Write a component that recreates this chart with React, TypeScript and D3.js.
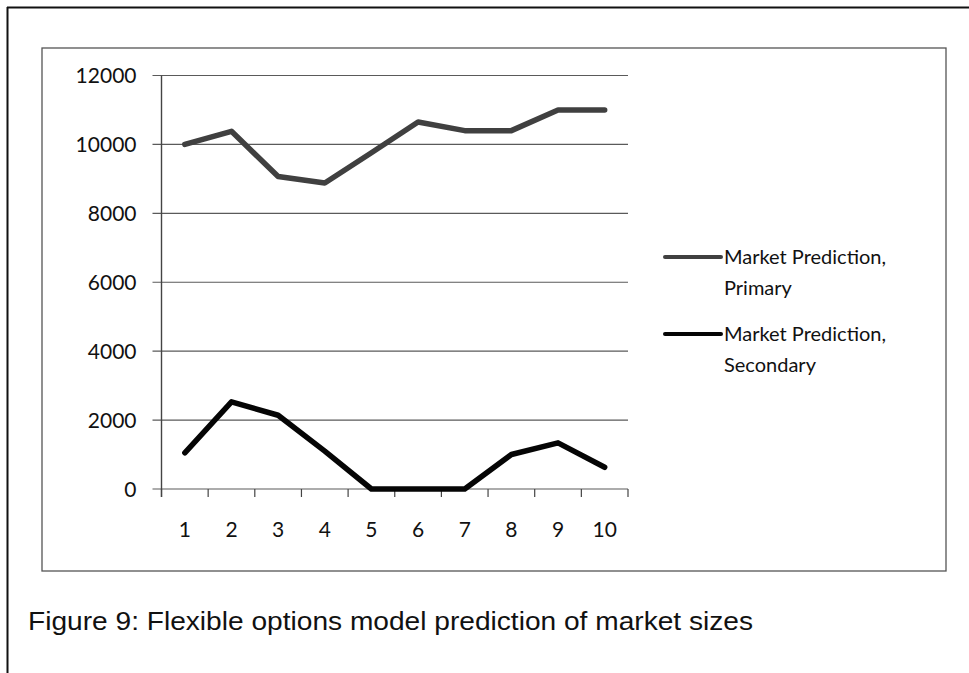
import React from "react";
import * as d3 from "d3";

// Periods on the horizontal axis
const periods = ["1", "2", "3", "4", "5", "6", "7", "8", "9", "10"];
// Market prediction, primary market
const primaryValues = [10000, 10380, 9070, 8880, 9760, 10650, 10400, 10400, 11000, 11000];
// Market prediction, secondary market
const secondaryValues = [1050, 2530, 2140, 1100, 0, 0, 0, 1000, 1340, 630];
// Value axis ticks
const yTicks = [0, 2000, 4000, 6000, 8000, 10000, 12000];
const seriesNames = [["Market Prediction,", "Primary"], ["Market Prediction,", "Secondary"]];
const caption = "Figure 9: Flexible options model prediction of market sizes";

const W = 969;
const H = 673;
const plot = { left: 161.5, right: 628, top: 75.5, bottom: 489 };
const tickFont = "Lato, 'Open Sans', sans-serif";

export default function App() {
  const x = d3.scaleBand<string>().domain(periods).range([plot.left, plot.right]);
  const y = d3.scaleLinear().domain([0, 12000]).range([plot.bottom, plot.top]);
  const line = d3
    .line<number>()
    .x((_, i) => (x(periods[i]) as number) + x.bandwidth() / 2)
    .y((v) => y(v));

  const series = [
    { values: primaryValues, color: "#404040", names: seriesNames[0] },
    { values: secondaryValues, color: "#050505", names: seriesNames[1] },
  ];
  const boundaries = periods.map((p) => x(p) as number).concat([plot.right]);

  return (
    <svg
      width={W}
      height={H}
      viewBox={`0 0 ${W} ${H}`}
      style={{ position: "absolute", left: 0, top: 0, display: "block", background: "#fff" }}
    >
      <rect x={0} y={0} width={W} height={H} fill="#fff" />
      {/* outer figure frame */}
      <line x1={7} y1={7.5} x2={W} y2={7.5} stroke="#111" strokeWidth={2} />
      <line x1={7.5} y1={7} x2={7.5} y2={H} stroke="#111" strokeWidth={2} />

      {/* chart area frame */}
      <rect x={42} y={48} width={904} height={523} fill="none" stroke="#555" strokeWidth={1.3} />

      {/* gridlines */}
      {yTicks.map((t) => (
        <line
          key={"g" + t}
          x1={plot.left - 9}
          x2={plot.right}
          y1={y(t)}
          y2={y(t)}
          stroke="#5a5a5a"
          strokeWidth={1.1}
        />
      ))}
      {/* value axis */}
      <line x1={plot.left} x2={plot.left} y1={plot.top} y2={plot.bottom + 8} stroke="#444" strokeWidth={1.4} />
      {/* category tick marks */}
      {boundaries.map((bx, i) => (
        <line key={"t" + i} x1={bx} x2={bx} y1={plot.bottom} y2={plot.bottom + 8} stroke="#444" strokeWidth={1.2} />
      ))}

      {/* value labels */}
      {yTicks.map((t) => (
        <text
          key={"yl" + t}
          x={136.5}
          y={y(t) + 7.8}
          textAnchor="end"
          fontFamily={tickFont}
          fontSize={21}
          fill="#111"
        >
          {t}
        </text>
      ))}
      {/* category labels */}
      {periods.map((p) => (
        <text
          key={"xl" + p}
          x={(x(p) as number) + x.bandwidth() / 2}
          y={536.5}
          textAnchor="middle"
          fontFamily={tickFont}
          fontSize={21}
          fill="#111"
        >
          {p}
        </text>
      ))}

      {/* series lines */}
      {series.map((s, i) => (
        <path
          key={"s" + i}
          d={line(s.values) as string}
          fill="none"
          stroke={s.color}
          strokeWidth={5.5}
          strokeLinejoin="round"
          strokeLinecap="round"
        />
      ))}

      {/* legend */}
      {series.map((s, i) => {
        const ly = 257 + i * 77;
        return (
          <g key={"lg" + i}>
            <line x1={665} x2={721} y1={ly} y2={ly} stroke={s.color} strokeWidth={4} strokeLinecap="round" />
            <text x={724} y={ly + 7} fontFamily={tickFont} fontSize={20} fill="#111">
              {s.names[0]}
            </text>
            <text x={724} y={ly + 38} fontFamily={tickFont} fontSize={20} fill="#111">
              {s.names[1]}
            </text>
          </g>
        );
      })}

      {/* caption */}
      <text
        x={28}
        y={629.5}
        fontFamily="'Liberation Sans', Arial, sans-serif"
        fontSize={26}
        textLength={725}
        lengthAdjust="spacingAndGlyphs"
        fill="#111"
      >
        {caption}
      </text>
    </svg>
  );
}
